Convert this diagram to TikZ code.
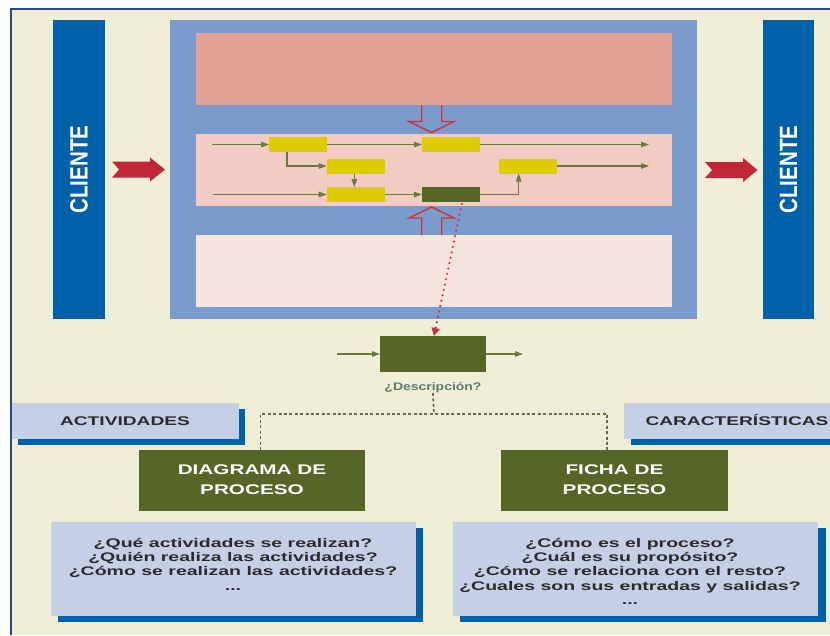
\documentclass[tikz,border=0pt]{standalone}
\usepackage{fontspec}
\setmainfont{Liberation Sans}
\usepackage{graphicx}
\usetikzlibrary{arrows.meta,calc,shadows}
\definecolor{cream}{RGB}{240,238,214}
\definecolor{navy}{RGB}{40,75,130}
\definecolor{cliblue}{RGB}{0,96,168}
\definecolor{procblue}{RGB}{122,155,203}
\definecolor{pinkA}{RGB}{226,162,150}
\definecolor{pinkB}{RGB}{241,204,194}
\definecolor{pinkC}{RGB}{246,228,222}
\definecolor{yel}{RGB}{220,204,0}
\definecolor{dgreen}{RGB}{85,102,39}
\definecolor{oliveln}{RGB}{107,122,58}
\definecolor{dotol}{RGB}{100,110,65}
\definecolor{redar}{RGB}{192,40,56}
\definecolor{redln}{RGB}{200,50,62}
\definecolor{lblue}{RGB}{197,207,230}
\definecolor{txtdark}{RGB}{43,43,43}
\definecolor{desccol}{RGB}{90,125,110}
\newcommand\sxt[2]{\scalebox{#1}[1]{\begin{tabular}{@{}c@{}}#2\end{tabular}}}
\begin{document}
\begin{tikzpicture}[x=1pt,y=-1pt,
  every node/.style={inner sep=0pt, outer sep=0pt},
  bar/.style={fill=cliblue, minimum width=52pt, minimum height=299pt},
  clitxt/.style={rotate=90, text=white, font=\bfseries\fontsize{20.5}{22}\selectfont},
  band/.style={fill=#1, minimum width=476pt, minimum height=72pt},
  ybox/.style={fill=yel, minimum width=58pt, minimum height=15pt},
  flow/.style={draw=oliveln, line width=1.1pt, -{Triangle[length=8pt,width=5.5pt]}},
  chev/.style={fill=redar},
  hollow/.style={draw=redln, line width=1.4pt, line join=miter},
  reddots/.style={draw=redln, line width=2.4pt, line cap=round, dash pattern=on 0pt off 5.5pt, -{Triangle[length=8pt,width=8pt,fill=redln]}},
  olivedots/.style={draw=dotol, line width=1.7pt, dash pattern=on 3pt off 2.4pt},
  gbox/.style={fill=dgreen, minimum width=226pt, minimum height=61pt, text=white, font=\bfseries\fontsize{14}{20}\selectfont},
  tag/.style={fill=lblue, minimum height=36pt, text=txtdark, text height=9pt, text depth=0pt,
    font=\bfseries\fontsize{12.6}{14}\selectfont,
    general shadow={fill=cliblue, shadow xshift=6.5pt, shadow yshift=-5.5pt}},
  qbox/.style={fill=lblue, minimum width=365pt, minimum height=94pt,
    general shadow={fill=cliblue, shadow xshift=7.5pt, shadow yshift=-5.7pt}},
  qtxt/.style={text=txtdark, font=\bfseries\fontsize{12.5}{14.2}\selectfont}
]
\fill[white] (0,0) rectangle (830,635);
\useasboundingbox (0,0) rectangle (830,635);
\fill[cream] (11,9) rectangle (830,635);

% clients
\node[bar] (CL1) at (79,169.5) {};
\node[bar, minimum width=51pt] (CL2) at (788.5,169.5) {};
\node[clitxt] (CL1t) at (CL1.center) {\scalebox{1}[1.22]{CLIENTE}};
\node[clitxt] (CL2t) at (CL2.center) {\scalebox{1}[1.22]{CLIENTE}};

% process frame
\node[fill=procblue, minimum width=527pt, minimum height=299pt] (P) at (433.5,169.5) {};
\node[band=pinkA] (T) at (434,69) {};
\node[band=pinkB] (M) at (434,170) {};
\node[band=pinkC] (B) at (434,271) {};

% red chevrons
\fill[chev] (112,161.5) -- (150,161.5) -- (150,157.5) -- (165,169.5) -- (150,181.5) -- (150,177.5) -- (112,177.5) -- (119,169.5) -- cycle;
\fill[chev] (705,162) -- (743,162) -- (743,158) -- (757.5,170) -- (743,182) -- (743,178) -- (705,178) -- (712,170) -- cycle;

% hollow arrows
\draw[hollow] (421.7,105) -- (421.7,121.5) -- (409,121.5) -- (431.7,132.5) -- (454,121.5) -- (441.7,121.5) -- (441.7,105);
\draw[hollow] (421.7,235) -- (421.7,218) -- (409,218) -- (431.7,207) -- (454,218) -- (441.7,218) -- (441.7,235);

% inner flow boxes
\node[ybox] (Y1) at (298,144.5) {};
\node[ybox] (Y2) at (451,144.5) {};
\node[ybox] (Y3) at (355.7,166) {};
\node[ybox] (Y4) at (527.7,166) {};
\node[ybox] (Y5) at (355.7,194.5) {};
\node[ybox, fill=dgreen] (G) at (451,194.5) {};
\coordinate (s1) at (212,144.5);
\coordinate (e1) at (649,144.5);
\coordinate (s2) at (213,194.5);
\coordinate (e2) at (649,166);
\draw[flow] (s1) -- (Y1.west);
\draw[flow] (Y1.east) -- (Y2.west);
\draw[flow] (Y2.east) -- (e1);
\draw[flow] ([xshift=-11pt]Y1.south) |- (Y3.west);
\draw[flow] ([xshift=-1.4pt]Y3.south) -- ([xshift=-1.4pt]Y5.north);
\draw[flow] (s2) -- (Y5.west);
\draw[flow] (Y5.east) -- (G.west);
\draw[flow] (G.east) -| ([xshift=-9pt]Y4.south);
\draw[flow] (Y4.east) -- (e2);

% detail
\node[fill=dgreen, minimum width=106pt, minimum height=36pt] (D) at (433,354) {};
\coordinate (s3) at (337,354);
\coordinate (e3) at (523,354);
\draw[flow] (s3) -- (D.west);
\draw[flow] (D.east) -- (e3);
\draw[reddots] ($(G.center)+(12,4)$) -- ([xshift=1pt]D.north);
\node[anchor=base, text=desccol, font=\bfseries\fontsize{11}{12}\selectfont] (desc) at (433,390.7) {\scalebox{1.27}[1]{¿Descripción?}};

% tags
\node[tag, minimum width=227pt] (ACT) at (125,421) {\scalebox{1.52}[1]{ACTIVIDADES}};
\node[tag, minimum width=226pt] (CAR) at (737,421) {\scalebox{1.52}[1]{CARACTERÍSTICAS}};

% green boxes
\node[gbox] (DP) at (252,480.5) {\sxt{1.48}{DIAGRAMA DE\\PROCESO}};
\node[gbox, minimum width=227pt] (FP) at (614.5,480.5) {\sxt{1.48}{FICHA DE\\PROCESO}};

% dotted connectors
\coordinate (J) at (434,414);
\draw[olivedots] (desc.south) -- (J);
\draw[olivedots] ([xshift=8.5pt]DP.north) |- (J) -| ([xshift=-7.5pt]FP.north);

% question boxes
\node[qbox] (QL) at (233,569) {};
\node[qbox, minimum width=365.4pt] (QR) at (635.3,569) {};
\node[qtxt] (QLt) at (233,566) {\sxt{1.56}{¿Qué actividades se realizan?\\¿Quién realiza las actividades?\\¿Cómo se realizan las actividades?\\...}};
\node[qtxt] (QRt) at (630,573) {\sxt{1.56}{¿Cómo es el proceso?\\¿Cuál es su propósito?\\¿Cómo se relaciona con el resto?\\¿Cuales son sus entradas y salidas?\\...}};

% frame border
\draw[navy, line width=2.2pt] (11,635) -- (11,9) -- (830,9);
\end{tikzpicture}
\end{document}
